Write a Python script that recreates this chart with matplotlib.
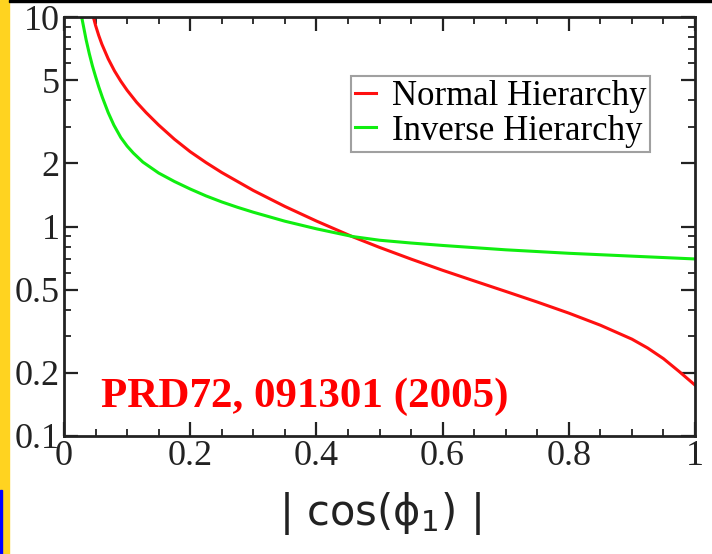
import matplotlib; matplotlib.use("Agg")
import matplotlib.pyplot as plt
from matplotlib.patches import Rectangle
from matplotlib.ticker import FixedLocator, LogLocator, NullFormatter, MultipleLocator

plt.rcParams.update({"font.family": "Liberation Serif", "mathtext.fontset": "dejavusans"})

# values
x_normal = [0.0465, 0.05, 0.055, 0.06, 0.07, 0.08, 0.09, 0.1, 0.115, 0.13, 0.15, 0.175, 0.2,
            0.225, 0.25, 0.3, 0.35, 0.4, 0.458, 0.5, 0.55, 0.6, 0.65, 0.7, 0.75, 0.8, 0.85,
            0.9, 0.925, 0.95, 0.975, 1.0]
y_normal = [10.0, 9.12, 8.17, 7.42, 6.32, 5.53, 4.94, 4.47, 3.92, 3.50, 3.05, 2.61, 2.275,
            2.02, 1.81, 1.486, 1.247, 1.062, 0.892, 0.795, 0.699, 0.618, 0.550, 0.490, 0.436, 0.386, 0.338,
            0.290, 0.263, 0.234, 0.203, 0.175]
x_inverse = [0.028, 0.035, 0.04, 0.045, 0.05, 0.055, 0.061, 0.07, 0.079, 0.09, 0.1, 0.11, 0.125,
             0.15, 0.175, 0.2, 0.225, 0.25, 0.275, 0.3, 0.35, 0.4, 0.458, 0.5, 0.55, 0.6, 0.7,
             0.8, 0.9, 1.0]
y_inverse = [10.0, 7.8, 6.7, 5.85, 5.2, 4.65, 4.12, 3.5, 3.05, 2.66, 2.42, 2.24, 2.03,
             1.80, 1.64, 1.51, 1.40, 1.31, 1.235, 1.17, 1.06, 0.975, 0.895, 0.86, 0.834, 0.812, 0.774,
             0.745, 0.722, 0.70]
labels = ["Normal Hierarchy", "Inverse Hierarchy"]
y_major = [0.1, 0.2, 0.5, 1, 2, 5, 10]
y_major_lbl = ["0.1", "0.2", "0.5", "1", "2", "5", "10"]
x_major = [0, 0.2, 0.4, 0.6, 0.8, 1]
x_major_lbl = ["0", "0.2", "0.4", "0.6", "0.8", "1"]

fig = plt.figure(figsize=(7.12, 5.54), dpi=100)
W, H = 712, 554
# slide decorations
fig.patches.append(Rectangle((0, 0), 9 / W, 1, transform=fig.transFigure, color="#ffd320", zorder=-1))
fig.patches.append(Rectangle((0, 0), 2 / W, 64 / H, transform=fig.transFigure, color="#0000ff", zorder=0))
fig.patches.append(Rectangle((9 / W, 1 - 2 / H), 1, 2 / H, transform=fig.transFigure, color="black", zorder=0))

ax = fig.add_axes([64 / W, 1 - 436 / H, 631 / W, 419 / H])
ax.plot(x_normal, y_normal, color="#ff1010", lw=2.2, label=labels[0])
ax.plot(x_inverse, y_inverse, color="#10ee10", lw=2.2, label=labels[1])
ax.set_yscale("log")
ax.set_xlim(0, 1); ax.set_ylim(0.1, 10)
ax.yaxis.set_major_locator(FixedLocator(y_major))
ax.set_yticklabels(y_major_lbl)
ax.yaxis.set_minor_locator(LogLocator(base=10, subs=(3, 4, 6, 7, 8, 9)))
ax.yaxis.set_minor_formatter(NullFormatter())
ax.set_xticks(x_major); ax.set_xticklabels(x_major_lbl)
ax.xaxis.set_minor_locator(MultipleLocator(0.05))
ax.tick_params(which="both", direction="in", top=True, right=True, labelsize=26, colors="#222222", pad=3)
ax.tick_params(which="major", length=10, width=1.6)
ax.tick_params(which="minor", length=5, width=1.3)
for s in ax.spines.values():
    s.set_linewidth(2); s.set_color("#222222")

leg = ax.legend(loc="upper right", bbox_to_anchor=(0.929, 0.86), fontsize=25, frameon=True, fancybox=False,
                handlelength=0.6, handletextpad=0.45, borderpad=0.12, labelspacing=0.05, borderaxespad=0)
leg.get_frame().set_edgecolor("#888888"); leg.get_frame().set_linewidth(1.5)

ax.text(0.058, 0.07, "PRD72, 091301 (2005)", transform=ax.transAxes, color="red",
        fontsize=31, fontweight="bold", ha="left", va="baseline")
ax.set_xlabel(r"$|\ \mathrm{cos}(\mathrm{ϕ}_1)\ |$", fontsize=30, color="#222222", labelpad=12)

fig.savefig("out.png", dpi=100)
